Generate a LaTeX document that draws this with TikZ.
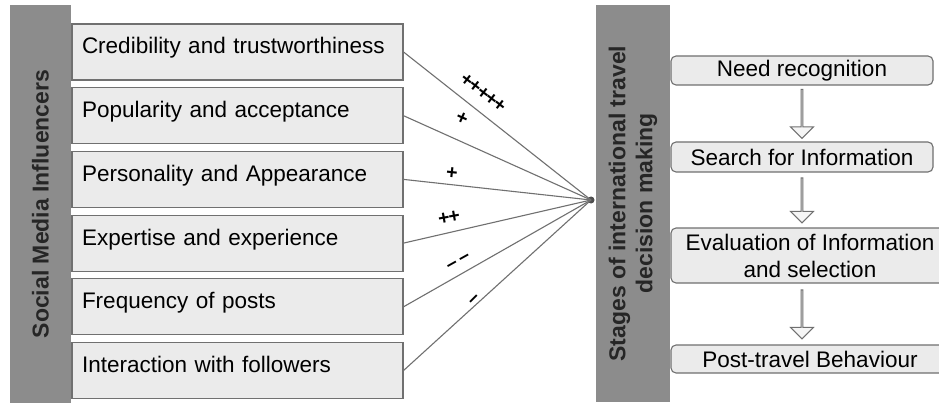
\documentclass[tikz,border=0pt]{standalone}
\usepackage{fontspec}
\setmainfont{Liberation Sans}
\usepackage{tikz}
\usetikzlibrary{shapes.arrows,calc}
\definecolor{bargray}{HTML}{8C8C8C}
\definecolor{boxgray}{HTML}{EBEBEB}
\definecolor{edgegray}{HTML}{707070}

\tikzset{
  bar/.style={fill=bargray, inner sep=0pt, align=center, text=black!85,
    font=\fontsize{23}{27}\selectfont\bfseries},
  factor/.style={draw=edgegray, fill=boxgray, line width=1.1pt, text width=311pt,
    inner xsep=10pt, inner ysep=0pt, text height=30pt, text depth=26pt, align=left,
    font=\fontsize{22.5}{27}\selectfont},
  stage/.style={draw=edgegray, fill=boxgray, line width=1.1pt, rounded corners=5pt,
    inner sep=0pt, align=center, font=\fontsize{22.5}{27}\selectfont},
  sign/.style={inner sep=0pt, font=\fontsize{19.5}{22}\selectfont\bfseries},
  link/.style={draw=edgegray, line width=1.1pt},
  flow/.style={single arrow, shape border rotate=270, draw=edgegray, fill=boxgray!50,
    line width=1pt, single arrow head extend=7pt, minimum width=23pt, inner sep=0pt}
}

\begin{document}
\begin{tikzpicture}[x = 1pt, y = -1pt]
\path[fill=white, use as bounding box] (0,0) rectangle (939,406);

% the two side bars
\node[bar, rotate=90, minimum width=398pt, minimum height=61pt] (smi) at (40.5, 204) {Social Media Influencers};
\node[bar, rotate=90, minimum width=397pt, minimum height=74pt] (stages) at (633, 203.5) {Stages of international travel\\decision making};

% influencer factors
\node[factor] (cred) at (237.5, 52) {Credibility and trustworthiness};
\node[factor] (pop) at (237.5, 115.7) {Popularity and acceptance};
\node[factor] (pers) at (237.5, 179.4) {Personality and Appearance};
\node[factor] (expt) at (237.5, 243.1) {Expertise and experience};
\node[factor] (freq) at (237.5, 306.8) {Frequency of posts};
\node[factor] (inter) at (237.5, 370.5) {Interaction with followers};

\node[circle, fill=edgegray!70!black, minimum size=7pt, inner sep=0pt] (hub) at (591, 200) {};

\draw[link] (cred.east) -- (hub.center);
\draw[link] (pop.east) -- (hub.center);
\draw[link] (pers.east) -- (hub.center);
\draw[link] (expt.east) -- (hub.center);
\draw[link] (freq.east) -- (hub.center);
\draw[link] (inter.east) -- (hub.center);

\node[sign, rotate=-38] (s1) at (483, 93) {+\kern-1pt+\kern-1pt+\kern-1pt+\kern-1pt+};
\node[sign, rotate=-24] (s2) at (462, 119) {+};
\node[sign, rotate=-6] (s3) at (452, 173) {+};
\node[sign, rotate=10] (s4) at (449, 218) {+\kern-1pt+};
\node[sign, rotate=29] (s5) at (459, 263) {–\,–};
\node[sign, rotate=45] (s6) at (475, 300) {–};

% decision making stages
\node[stage, minimum width=262pt, minimum height=29pt] (need) at (802, 70.5) {Need recognition};
\node[stage, minimum width=262pt, minimum height=30pt] (search) at (802, 157) {Search for Information};
\node[stage, minimum width=278pt, minimum height=55pt] (eval) at (810, 255.5) {Evaluation of Information\\and selection};
\node[stage, minimum width=278pt, minimum height=28pt] (post) at (810, 359) {Post-travel Behaviour};

\coordinate (m1) at ($(need.south)!.5!(search.north)$);
\coordinate (m2) at ($(search.south)!.5!(eval.north)$);
\coordinate (m3) at ($(eval.south)!.5!(post.north)$);
\node[flow, minimum height=49pt] (f1) at (need.south |- m1) {};
\node[flow, minimum height=45pt] (f2) at (need.south |- m2) {};
\node[flow, minimum height=49pt] (f3) at (need.south |- m3) {};

\end{tikzpicture}
\end{document}
